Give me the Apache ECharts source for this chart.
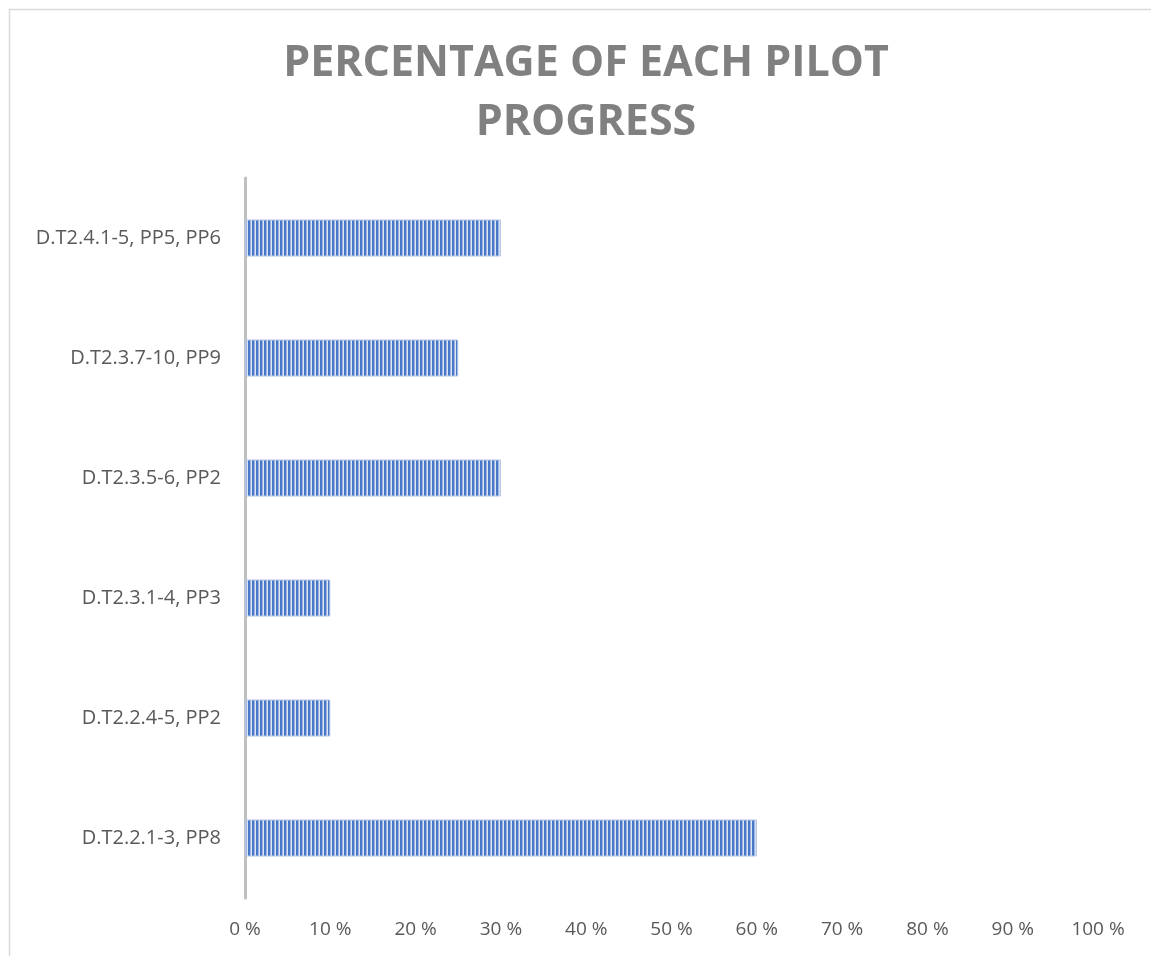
<!DOCTYPE html>
<html>
<head>
<meta charset="utf-8">
<script src="https://cdn.jsdelivr.net/npm/echarts@6/dist/echarts.min.js"></script>
<style>
html,body{margin:0;padding:0;background:#fff;}
#chart{width:1151px;height:956px;}
</style>
</head>
<body>
<div id="chart"></div>
<script>
const categories = ['D.T2.2.1-3, PP8', 'D.T2.2.4-5, PP2', 'D.T2.3.1-4, PP3', 'D.T2.3.5-6, PP2', 'D.T2.3.7-10, PP9', 'D.T2.4.1-5, PP5, PP6'];
const values = [60, 10, 10, 30, 25, 30];
const titleText = 'PERCENTAGE OF EACH PILOT\nPROGRESS';

function stripePattern() {
  const c = document.createElement('canvas');
  c.width = 4; c.height = 4;
  const g = c.getContext('2d');
  g.fillStyle = '#4a78c8'; g.fillRect(0, 0, 4, 4);
  g.fillStyle = '#9db6e2'; g.fillRect(2, 0, 1, 4);
  g.fillStyle = '#dbe5f6'; g.fillRect(3, 0, 1, 4);
  return c;
}

const chart = echarts.init(document.getElementById('chart'));
chart.setOption({
  animation: false,
  graphic: [{
    type: 'rect', left: 7, top: 7,
    shape: { width: 1300, height: 1100 },
    style: { fill: 'none', stroke: '#d9d9d9', lineWidth: 1.5 },
    z: -1
  }],
  title: {
    text: titleText,
    left: 581, top: 29, textAlign: 'center',
    textStyle: { fontFamily: 'Open Sans', fontWeight: 'bold', fontSize: 43, color: '#808080', lineHeight: 59 }
  },
  grid: { left: 245, right: 53, top: 178, bottom: 58, containLabel: false },
  xAxis: {
    type: 'value', min: 0, max: 100, interval: 10,
    axisLine: { show: false }, axisTick: { show: false }, splitLine: { show: false },
    axisLabel: { formatter: '{value} %', color: '#595959', fontFamily: 'Open Sans', fontSize: 19, margin: 22 }
  },
  yAxis: {
    type: 'category', data: categories,
    axisLine: { show: true, lineStyle: { color: '#bfbfbf', width: 3 } },
    axisTick: { show: false },
    axisLabel: { color: '#595959', fontFamily: 'Open Sans', fontSize: 20, margin: 24 }
  },
  series: [{
    type: 'bar', data: values, barWidth: 37,
    itemStyle: {
      color: { image: stripePattern(), repeat: 'repeat' },
      borderColor: '#b4c7e7', borderWidth: 1
    }
  }]
});
</script>
</body>
</html>
